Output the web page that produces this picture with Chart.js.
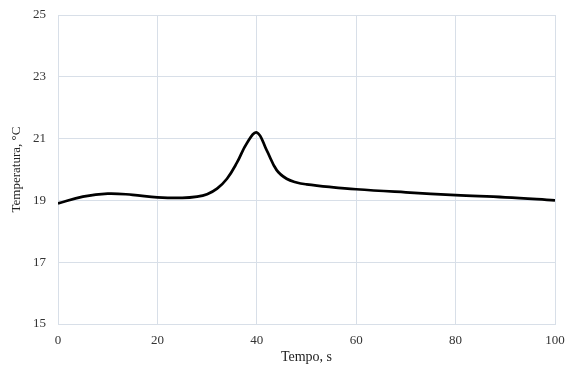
<!DOCTYPE html>
<html>
<head>
<meta charset="utf-8">
<script src="https://cdn.jsdelivr.net/npm/chart.js@4.4.1/dist/chart.umd.min.js"></script>
<style>
  html, body { margin: 0; padding: 0; background: #fff; }
  #wrap { width: 566px; height: 368px; }
</style>
</head>
<body>
<div id="wrap"><canvas id="myChart" width="566" height="368"></canvas></div>
<script>
// tempo (s) e temperatura (°C)
var tempo = [0, 5, 10, 15, 20, 25, 28, 30, 32, 34, 36, 38, 40, 42, 44, 46, 48, 50, 55, 60, 70, 80, 90, 100];
var temperatura = [18.9, 19.12, 19.22, 19.18, 19.1, 19.08, 19.12, 19.2, 19.38, 19.7, 20.22, 20.85, 21.2, 20.62, 19.98, 19.7, 19.58, 19.52, 19.43, 19.36, 19.26, 19.17, 19.1, 19.0];
var ticksX = [0, 20, 40, 60, 80, 100];
var ticksY = [15, 17, 19, 21, 23, 25];

var pontos = tempo.map(function (t, i) { return { x: t, y: temperatura[i] }; });
var grade = '#d8dfe8';
var fonte = { family: 'Liberation Serif', size: 13 };

var ctx = document.getElementById('myChart').getContext('2d');
var chart = new Chart(ctx, {
  type: 'line',
  data: {
    datasets: [{
      data: pontos,
      borderColor: '#000',
      borderWidth: 2.7,
      pointRadius: 0,
      fill: false,
      tension: 0.4
    }]
  },
  options: {
    responsive: false,
    animation: false,
    layout: { padding: { top: 15, right: 0, left: 0, bottom: 0 } },
    plugins: { legend: { display: false }, tooltip: { enabled: false } },
    scales: {
      x: {
        type: 'linear',
        min: 0, max: 100,
        afterBuildTicks: function (s) { s.ticks = ticksX.map(function (v) { return { value: v }; }); },
        afterFit: function (s) { s.height = 44; s.paddingRight = 11; },
        grid: { color: grade, drawTicks: false },
        border: { color: grade },
        ticks: { color: '#333', font: fonte, padding: 9, maxRotation: 0 },
        title: { display: true, text: 'Tempo, s', color: '#222', font: { family: 'Liberation Serif', size: 14 }, padding: { top: 0, bottom: 2 } }
      },
      y: {
        min: 15, max: 25,
        afterBuildTicks: function (s) { s.ticks = ticksY.map(function (v) { return { value: v }; }); },
        afterFit: function (s) { s.width = 58; s.paddingTop = 0; s.paddingBottom = 0; },
        grid: { color: grade, drawTicks: false },
        border: { color: grade },
        ticks: { color: '#333', font: fonte, padding: 12 },
        title: { display: true, text: 'Temperatura, °C', color: '#222', font: fonte, padding: { top: 9, bottom: 0 } }
      }
    }
  }
});
</script>
</body>
</html>
